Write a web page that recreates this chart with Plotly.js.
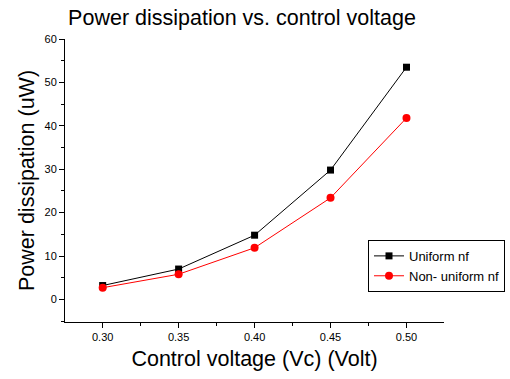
<!DOCTYPE html>
<html><head><meta charset="utf-8">
<script src="https://cdn.plot.ly/plotly-3.0.1.min.js"></script>
<style>html,body{margin:0;padding:0;background:#fff}#c{width:510px;height:379px}</style>
</head><body><div id="c"></div>
<script>
const voltage = [0.30, 0.35, 0.40, 0.45, 0.50];
const uniformNf = [3.2, 7.0, 14.8, 29.8, 53.5];
const nonUniformNf = [2.7, 5.8, 11.9, 23.4, 41.8];
const seriesNames = ["Uniform nf", "Non- uniform nf"];
const xTicks = [0.30, 0.35, 0.40, 0.45, 0.50];
const xTickText = ["0.30", "0.35", "0.40", "0.45", "0.50"];
const yTicks = [0, 10, 20, 30, 40, 50, 60];

const font = "Liberation Sans, Arial, sans-serif";
const traces = [
  {x: voltage, y: uniformNf, name: seriesNames[0], type: 'scatter', mode: 'lines+markers',
   line: {color: '#000000', width: 1}, marker: {symbol: 'square', size: 7, color: '#000000'}},
  {x: voltage, y: nonUniformNf, name: seriesNames[1], type: 'scatter', mode: 'lines+markers',
   line: {color: '#ff0000', width: 1}, marker: {symbol: 'circle', size: 8, color: '#ff0000'}}
];
const W = 510, L = 65, R = 4, plotRight = 444;
const paperW = W - L - R;
const layout = {
  width: 510, height: 379,
  margin: {l: L, r: R, t: 39, b: 57},
  paper_bgcolor: '#fff', plot_bgcolor: '#fff',
  font: {family: font, color: '#000'},
  showlegend: true,
  title: {text: 'Power dissipation vs. control voltage', font: {size: 21.5, family: font, color: '#000'},
          x: 177 / paperW, xref: 'paper', xanchor: 'center', y: 0.955, yref: 'container', yanchor: 'middle'},
  xaxis: {domain: [0, (plotRight - L) / paperW],
          range: [0.2752, 0.5247], tickvals: xTicks, ticktext: xTickText, showgrid: false, zeroline: false,
          showline: true, linecolor: '#000', linewidth: 1, ticks: 'outside', ticklen: 5, tickcolor: '#000',
          tickfont: {size: 11, family: font}, mirror: false,
          minor: {dtick: 0.025, tick0: 0.275, ticks: 'outside', ticklen: 3, tickcolor: '#000', showgrid: false},
          title: {text: 'Control voltage (Vc) (Volt)', font: {size: 21.5, family: font}, standoff: 8}},
  yaxis: {range: [-5.2, 60], tickvals: yTicks, showgrid: false, zeroline: false,
          showline: true, linecolor: '#000', linewidth: 1, ticks: 'outside', ticklen: 5, tickcolor: '#000',
          tickfont: {size: 11, family: font},
          minor: {dtick: 5, tick0: 0, ticks: 'outside', ticklen: 3, tickcolor: '#000', showgrid: false},
          title: {text: 'Power dissipation (uW)', font: {size: 21.5, family: font}, standoff: 4}},
  legend: {x: (505 - L) / paperW, y: 0.29, xanchor: 'right', yanchor: 'top', xref: 'paper', yref: 'paper',
           bordercolor: '#000', borderwidth: 1, bgcolor: '#fff',
           font: {size: 13, family: font}, tracegroupgap: 0, itemwidth: 30}
};
Plotly.newPlot('c', traces, layout, {displayModeBar: false, staticPlot: true});
</script></body></html>
